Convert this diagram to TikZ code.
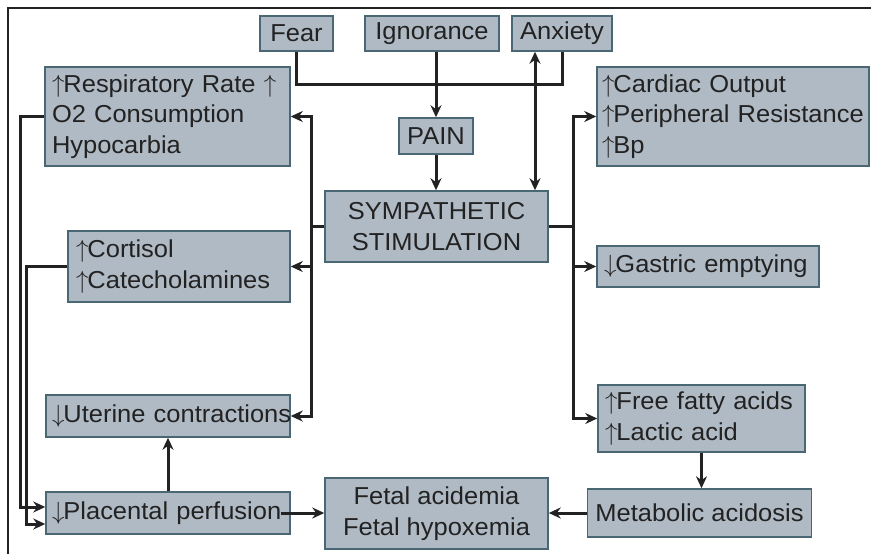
\documentclass[tikz,border=0pt]{standalone}
\usepackage{fontspec}
\setmainfont[FakeStretch=1.04]{Liberation Sans}
\usetikzlibrary{arrows.meta}
\definecolor{boxfill}{HTML}{B0BAC4}
\definecolor{boxline}{HTML}{4A6874}
\definecolor{ink}{HTML}{222222}
\newcommand{\upar}{$\uparrow$\kern-1pt}
\newcommand{\dnar}{$\downarrow$\kern-1pt}
\newcommand{\oneline}[1]{\mbox{#1}}
\begin{document}
\begin{tikzpicture}[x=1pt,y=-1pt,
  bx/.style={draw=boxline, fill=boxfill, line width=1.5pt, text=ink,
    font=\fontsize{24.5}{30.5}\selectfont, inner xsep=8pt, inner ysep=0pt,
    execute at begin node={\hbadness=10000\hfuzz=50pt}},
  cbox/.style={bx, align=center},
  lbox/.style={bx, align=left, text width=#1},
  conn/.style={draw=ink, line width=3pt},
  arr/.style={conn, -{Stealth[length=12pt,width=11pt]}},
  darr/.style={conn, {Stealth[length=12pt,width=11pt]}-{Stealth[length=12pt,width=11pt]}}
]
\useasboundingbox (0,0) rectangle (871,554);
% frame
\draw[ink, line width=2.5pt] (8,554) -- (8,8) -- (871,8);

% top nodes
\node[cbox, minimum width=73, minimum height=35] (fear) at (296.5,33.5) {Fear};
\node[cbox, minimum width=134, minimum height=35] (ign) at (432,33.5) {Ignorance};
\node[cbox, minimum width=100, minimum height=35] (anx) at (562,33.5) {Anxiety};
\node[cbox, minimum width=74, minimum height=36] (pain) at (436,136) {PAIN};
\node[cbox, minimum width=223, minimum height=71] (sym) at (436.5,226.5) {SYMPATHETIC\\STIMULATION};

% left column
\node[lbox=231pt, minimum height=99, inner xsep=7pt] (resp) at (167.5,116.5) {\oneline{\upar Respiratory Rate \upar}\\\oneline{O2 Consumption}\\Hypocarbia};
\node[lbox=206pt, minimum height=71] (cort) at (179,266.5) {\oneline{\upar Cortisol}\\\oneline{\upar Catecholamines}};
\node[lbox=232pt, minimum height=42, inner xsep=6pt] (uter) at (168,416) {\oneline{\dnar Uterine contractions}};
\node[lbox=232pt, minimum height=42, inner xsep=6pt] (plac) at (168,513) {\oneline{\dnar Placental perfusion}};

% right column
\node[lbox=262pt, minimum height=99, inner xsep=5pt] (card) at (733,116.5) {\oneline{\upar Cardiac Output}\\\oneline{\upar Peripheral Resistance}\\\oneline{\upar Bp}};
\node[lbox=208pt, minimum height=41, inner xsep=7pt] (gast) at (708,266.5) {\oneline{\dnar Gastric emptying}};
\node[lbox=193pt, minimum height=67, inner xsep=7pt] (ffa) at (701.5,418.5) {\oneline{\upar Free fatty acids}\\\oneline{\upar Lactic acid}};
\node[cbox, minimum width=221, minimum height=48] (meta) at (699.5,513) {Metabolic acidosis};
\node[cbox, minimum width=223, minimum height=71] (fetal) at (436.5,513.5) {Fetal acidemia\\Fetal hypoxemia};

% top connectors
\draw[conn] (fear.south) -- ++(0,33) -| (anx.south);
\draw[arr] (pain.north |- ign.south) -- (pain.north);
\draw[arr] (pain.south) -- (sym.north -| pain.south);
\draw[darr] ([xshift=-27pt]anx.south) -- ([xshift=-27pt]anx.south |- sym.north);

% left bus
\draw[arr] (sym.west) -- ++(-13,0) |- (resp.east);
\draw[arr] (sym.west) -- ++(-13,0) |- (cort.east);
\draw[arr] (sym.west) -- ++(-13,0) |- (uter.east);

% right bus
\draw[arr] (sym.east) -- ++(25,0) |- (card.west);
\draw[arr] (sym.east) -- ++(25,0) |- (gast.west);
\draw[arr] (sym.east) -- ++(25,0) |- (ffa.west);

% bottom
\draw[arr] (ffa.south) -- (ffa.south |- meta.north);
\draw[arr] (meta.west) -- (fetal.east |- meta.west);
\draw[arr] ([xshift=-10pt]plac.east) -- (fetal.west |- plac.east);
\draw[arr] (plac.north) -- (uter.south);

% left feedback lines
\draw[arr] (resp.west) -- ++(-24,0) |- ([yshift=6pt]plac.west);
\draw[arr] (cort.west) -- ++(-41,0) |- ([yshift=-11pt]plac.west);
\end{tikzpicture}
\end{document}
